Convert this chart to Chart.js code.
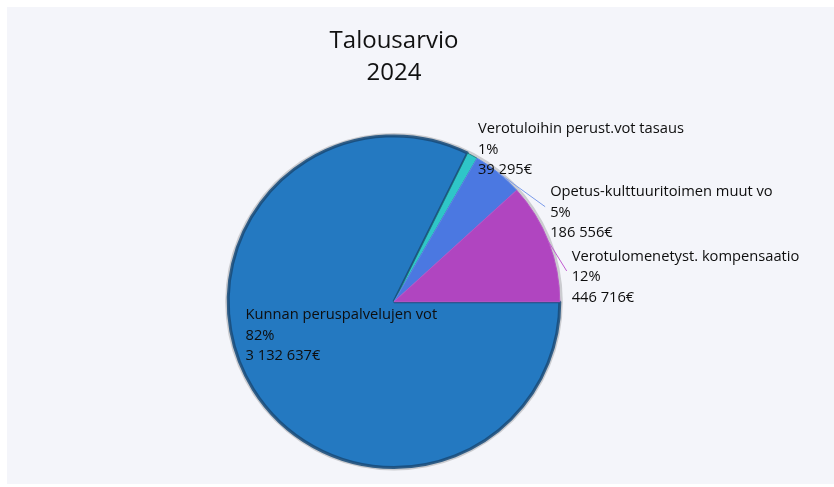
<!DOCTYPE html>
<html>
<head>
<meta charset="utf-8">
<script src="https://cdn.jsdelivr.net/npm/chart.js@4/dist/chart.umd.min.js"></script>
<style>
  html, body { margin: 0; padding: 0; background: #ffffff; }
  #wrap { width: 834px; height: 487px; }
</style>
</head>
<body>
<div id="wrap"><canvas id="pieCanvas" width="834" height="487"></canvas></div>
<script>
// data
var titleLines = ['Talousarvio', '2024'];
var sliceLabels = ['Kunnan peruspalvelujen vot', 'Verotuloihin perust.vot tasaus', 'Opetus-kulttuuritoimen muut vo', 'Verotulomenetyst. kompensaatio'];
var sliceValues = [3132637, 39295, 186556, 446716];

var sliceColors = ['#2479c1', '#2fc6c8', '#4b78e1', '#b045c0'];
var sliceBorders = ['rgba(24,74,120,0.85)', 'rgba(30,110,115,0.8)', '#5a86e8', '#b855c6'];
var lineColors = ['#2479c1', '#2fc6c8', '#7b9bea', '#c25ad0'];

var fontFamily = '"Segoe UI", "Open Sans", "Noto Sans", sans-serif';

// label placement: [dx, dy] of text block (left, vertical centre) from the slice's outer mid point
// inside labels are measured from the mid point at half radius
var labelPlace = [
    { inside: true, dx: -78, dy: -10 },
    { inside: false, dx: 5.5, dy: -6, line: false },
    { inside: false, dx: 52, dy: 40, line: true },
    { inside: false, dx: 23, dy: 35, line: true }
];

function formatEuro(v) {
    return String(v).replace(/\B(?=(\d{3})+(?!\d))/g, ' ') + '€';
}

var panelPlugin = {
    id: 'panel',
    beforeDraw: function (chart) {
        var ctx = chart.ctx;
        ctx.save();
        ctx.fillStyle = '#ffffff';
        ctx.fillRect(0, 0, chart.width, chart.height);
        ctx.fillStyle = '#f4f5fa';
        ctx.fillRect(7, 7, chart.width - 7, chart.height - 10);
        ctx.restore();
    },
    beforeDatasetsDraw: function (chart) {
        var arc = chart.getDatasetMeta(0).data[0];
        if (!arc) return;
        var ctx = chart.ctx;
        ctx.save();
        ctx.beginPath();
        ctx.arc(arc.x, arc.y, arc.outerRadius + 3, 0, Math.PI * 2);
        ctx.fillStyle = '#cbccd0';
        ctx.fill();
        ctx.restore();
    }
};

var sliceLabelPlugin = {
    id: 'sliceLabels',
    afterDatasetsDraw: function (chart) {
        var ctx = chart.ctx;
        var meta = chart.getDatasetMeta(0);
        var total = sliceValues.reduce(function (a, b) { return a + b; }, 0);
        var lh = 20.5;
        ctx.save();
        ctx.font = '14.7px ' + fontFamily;
        ctx.textBaseline = 'middle';
        ctx.textAlign = 'left';
        meta.data.forEach(function (arc, i) {
            var mid = (arc.startAngle + arc.endAngle) / 2;
            var p = labelPlace[i];
            var r = p.inside ? arc.outerRadius * 0.5 : arc.outerRadius;
            var ax = arc.x + Math.cos(mid) * r;
            var ay = arc.y + Math.sin(mid) * r;
            var left = ax + p.dx;
            var cy = ay + p.dy;
            if (!p.inside && p.line) {
                ctx.beginPath();
                ctx.moveTo(ax, ay);
                ctx.lineTo(left - 5, cy - 6);
                ctx.strokeStyle = lineColors[i];
                ctx.lineWidth = 1;
                ctx.stroke();
            }
            var lines = [
                sliceLabels[i],
                Math.round(sliceValues[i] / total * 100) + '%',
                formatEuro(sliceValues[i])
            ];
            ctx.fillStyle = '#0e0e0e';
            lines.forEach(function (t, k) {
                ctx.fillText(t, left, cy + (k - 1) * lh);
            });
        });
        ctx.restore();
    }
};

var pieChart = new Chart('pieCanvas', {
    type: 'pie',
    data: {
        labels: sliceLabels,
        datasets: [{
            data: sliceValues,
            backgroundColor: sliceColors,
            borderColor: sliceBorders,
            borderWidth: [3, 1, 1, 1],
            hoverOffset: 0
        }]
    },
    options: {
        responsive: false,
        animation: false,
        rotation: 90,
        layout: {
            padding: { top: 26, bottom: 18, left: 0, right: 46 }
        },
        plugins: {
            legend: { display: false },
            tooltip: { enabled: false },
            title: {
                display: true,
                text: titleLines,
                color: '#111111',
                font: { family: fontFamily, size: 24, weight: 'normal', lineHeight: 1.3 },
                padding: { top: 0, bottom: 46 }
            }
        }
    },
    plugins: [panelPlugin, sliceLabelPlugin]
});
</script>
</body>
</html>
